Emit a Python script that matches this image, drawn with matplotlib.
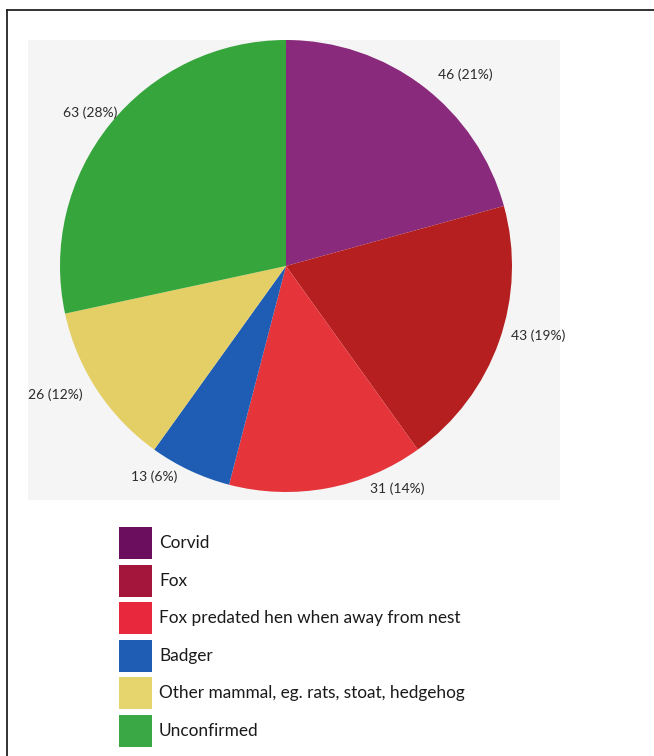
import numpy as np
import matplotlib
matplotlib.use("Agg")
import matplotlib.pyplot as plt
from matplotlib.patches import Rectangle
from matplotlib.lines import Line2D

# data
categories = ["Corvid", "Fox", "Fox predated hen when away from nest", "Badger",
              "Other mammal, eg. rats, stoat, hedgehog", "Unconfirmed"]
counts = [46, 43, 31, 13, 26, 63]
pct_labels = ["21%", "19%", "14%", "6%", "12%", "28%"]
pie_colors = ["#8a2a7c", "#b51f1f", "#e5343a", "#1f5db4", "#e4cf66", "#36a53c"]
legend_colors = ["#6c0e5e", "#a5163c", "#e8283c", "#1f5cb3", "#e6d46c", "#3aa845"]

# label placement tweaks (degrees off the wedge middle, radius in pie radii)
label_shift = [-6, 4, 16, -7, -4, 1]
label_rad = [1.16, 1.16, 1.10, 1.10, 1.17, 1.10]

W, H = 654, 756
fig = plt.figure(figsize=(W / 100, H / 100), dpi=100)
fig.patch.set_facecolor("white")

# light grey panel behind the pie
fig.patches.append(Rectangle((28 / W, 1 - 500 / H), 532 / W, 460 / H,
                             transform=fig.transFigure, facecolor="#f5f5f5",
                             edgecolor="none", zorder=-5))

# frame (left and top edge visible)
fig.lines.append(Line2D([7 / W, 7 / W], [0, 1 - 10 / H], transform=fig.transFigure,
                        color="#222222", lw=1.3))
fig.lines.append(Line2D([7 / W, 1], [1 - 10 / H, 1 - 10 / H], transform=fig.transFigure,
                        color="#222222", lw=1.3))

cx, cy, R = 286, 266, 226
ax = fig.add_axes([(cx - R) / W, 1 - (cy + R) / H, 2 * R / W, 2 * R / H])
ax.set_zorder(2)

wedges, _ = ax.pie(counts, colors=pie_colors, startangle=90, counterclock=False,
                   radius=1, wedgeprops=dict(linewidth=0))
ax.set_xlim(-1, 1)
ax.set_ylim(-1, 1)
ax.set_aspect("equal")
ax.axis("off")

for w, n, p, da, r in zip(wedges, counts, pct_labels, label_shift, label_rad):
    mid = np.deg2rad((w.theta1 + w.theta2) / 2 + da)
    ax.text(r * np.cos(mid), r * np.sin(mid), f"{n} ({p})", ha="center", va="center",
            fontsize=10, family="Lato", color="#2b2b2b", clip_on=False)

# legend
y0 = 543
pitch = 37.5
for i, (lab, col) in enumerate(zip(categories, legend_colors)):
    yc = y0 + i * pitch
    fig.patches.append(Rectangle((119 / W, 1 - (yc + 16) / H), 33 / W, 32 / H,
                                 transform=fig.transFigure, facecolor=col,
                                 edgecolor="none"))
    fig.text(159 / W, 1 - yc / H, lab, ha="left", va="center", fontsize=12.4,
             family="Lato", color="#1a1a1a")

fig.savefig("out.png", dpi=100)
